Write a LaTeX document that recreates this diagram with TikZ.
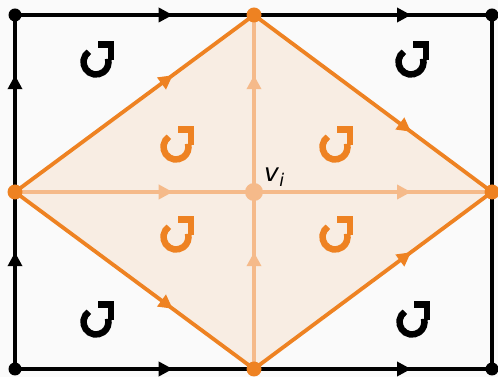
\documentclass[tikz,border=0pt]{standalone}
\usepackage{fontspec}
\setmainfont{DejaVu Sans}
\usepackage{tikz}
\usetikzlibrary{arrows.meta,decorations.markings}

\definecolor{bgray}{HTML}{FAFAFA}
\definecolor{ora}{HTML}{EE8222}
\definecolor{lora}{HTML}{F5BA8A}
\definecolor{fora}{HTML}{F8EDE3}

\tikzset{
  midarrow/.style={postaction={decorate},
    decoration={markings,mark=at position 0.66 with {\arrow{Triangle[length=14pt,width=14pt]}}}},
  frame/.style={black,line width=3.3pt},
  dia/.style={ora,line width=3.8pt,line cap=round},
  cross/.style={lora,line width=4.2pt},
  ccw/.pic={
    \draw[line width=6.5pt] (125:12.5) arc[start angle=125,end angle=375,radius=12.5];
    \draw[line width=6.5pt,line join=miter] (2,17.5) -- (15,17.5) -- (15,2);
  }
}

\begin{document}
\begin{tikzpicture}[x=1pt,y=1pt]
\useasboundingbox (0,0) rectangle (498,377);
\fill[bgray] (0,0) rectangle (498,377);

% corners of the frame and vertices of the diamond
\coordinate (tl) at (15,362);
\coordinate (tr) at (492,362);
\coordinate (bl) at (15,8);
\coordinate (br) at (492,8);
\coordinate (top) at (254,362);
\coordinate (rgt) at (492,185);
\coordinate (bot) at (254,8);
\coordinate (lft) at (15,185);
\coordinate (c) at (254,185);

\fill[fora] (lft) -- (top) -- (rgt) -- (bot) -- cycle;

% inner cross
\draw[cross,midarrow] (lft) -- (c);
\draw[cross,midarrow] (c) -- (rgt);
\draw[cross,midarrow] (c) -- (top);
\draw[cross,midarrow] (bot) -- (c);

% frame
\draw[frame,midarrow] (tl) -- (top);
\draw[frame,midarrow] (top) -- (tr);
\draw[frame,midarrow] (bl) -- (bot);
\draw[frame,midarrow] (bot) -- (br);
\draw[frame,midarrow] (bl) -- (lft);
\draw[frame,midarrow] (lft) -- (tl);
\draw[frame] (br) -- (tr);

% diamond
\draw[dia,midarrow] (lft) -- (top);
\draw[dia,midarrow] (top) -- (rgt);
\draw[dia,midarrow] (lft) -- (bot);
\draw[dia,midarrow] (bot) -- (rgt);

\foreach \p in {tl,tr,bl,br} \fill[black] (\p) circle (6.5);
\foreach \p in {top,rgt,bot,lft} \fill[ora] (\p) circle (7.5);
\fill[lora] (c) circle (9);

\node[anchor=base west,inner sep=0pt,font=\fontsize{25}{25}\selectfont] (vi) at ([xshift=10,yshift=10]c) {\textit{v}\textsubscript{\textit{i}}};

% rotation marks
\foreach \x/\y in {96/315,411/315,96/55,412/55} \pic[black] at (\x,\y) {ccw};
\foreach \x/\y in {176/230,335/230,176/140,335/140} \pic[ora] at (\x,\y) {ccw};
\end{tikzpicture}
\end{document}
